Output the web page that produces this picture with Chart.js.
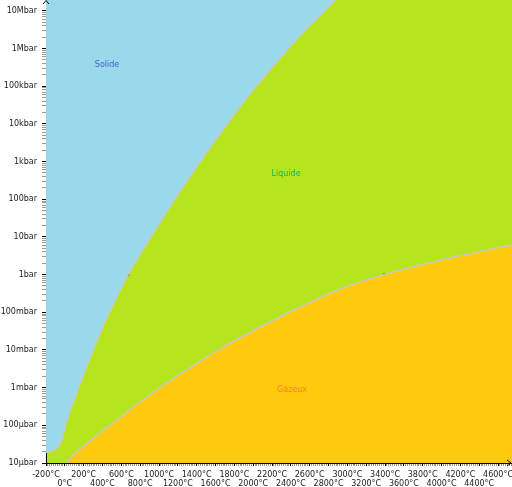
<!DOCTYPE html>
<html>
<head>
<meta charset="utf-8">
<script src="https://cdn.jsdelivr.net/npm/chart.js@4.4.1/dist/chart.umd.min.js"></script>
<style>
  html, body { margin: 0; padding: 0; background: #fff; }
  #wrap { width: 512px; height: 487px; }
</style>
</head>
<body>
<div id="wrap"><canvas id="phase" width="512" height="487"></canvas></div>
<script>
// Melting curve (solide / liquide), temperature in °C, pressure in bar
const meltT = [-200, -115, -73, -41, -19, 2, 108, 214, 320, 426, 533, 671, 904, 1170, 1435, 1701, 1966, 2232, 2497, 2890, 3135];
const meltP = [1.9e-5, 2.21e-5, 2.66e-5, 3.61e-5, 5.21e-5, 9.04e-5, 5.32e-4, 2.77e-3, 1.28e-2, 5.53e-2, 0.2, 1.0, 9.1, 102, 980, 8300, 6.3e4, 3.9e5, 2.2e6, 2.2e7, 1.2e8];

// Vaporisation curve (liquide / gazeux)
const vapT = [-40, 23, 76, 161, 267, 373, 586, 798, 1223, 1648, 2073, 2497, 2922, 3390, 4090, 4800];
const vapP = [5e-6, 1e-5, 1.53e-5, 2.35e-5, 3.84e-5, 6.25e-5, 1.61e-4, 4.16e-4, 2.29e-3, 1.07e-2, 4.07e-2, 0.138, 0.417, 1.0, 2.75, 6.5];

// Points marked at 1 bar
const markT = [671, 3390];
const markP = [1, 1];

// Region names
const regionNames = ['Solide', 'Liquide', 'Gazeux'];
const regionT = [448, 2349, 2413];
const regionP = [3.7e5, 470, 8.7e-4];
const regionColors = ['#3f5fd6', '#22b14c', '#ff7f27'];

// Axis labels
const xLabelValues = [-200, 0, 200, 400, 600, 800, 1000, 1200, 1400, 1600, 1800, 2000, 2200, 2400, 2600, 2800, 3000, 3200, 3400, 3600, 3800, 4000, 4200, 4400, 4600];
const xTickLabels = ['-200°C', '0°C', '200°C', '400°C', '600°C', '800°C', '1000°C', '1200°C', '1400°C', '1600°C', '1800°C', '2000°C', '2200°C', '2400°C', '2600°C', '2800°C', '3000°C', '3200°C', '3400°C', '3600°C', '3800°C', '4000°C', '4200°C', '4400°C', '4600°C'];
const yTickLabels = ['10µbar', '100µbar', '1mbar', '10mbar', '100mbar', '1bar', '10bar', '100bar', '1kbar', '10kbar', '100kbar', '1Mbar', '10Mbar'];

const X_MIN = -200, X_MAX = 4748;
const Y_MIN = 1e-5, Y_MAX = 1.95e7;
const FONT = { family: 'DejaVu Sans', size: 8, lineHeight: 1.15 };

const toXY = (xs, ys) => xs.map((x, i) => ({ x: x, y: ys[i] }));

function isDecade(v) {
  const e = Math.round(Math.log10(v));
  return Math.abs(v - Math.pow(10, e)) < 1e-6 * v;
}

// minor tick marks
const xTicks = [];
for (let t = X_MIN; t <= X_MAX; t += 20) xTicks.push({ value: t });
const yTicks = [];
for (let e = -5; e <= 7; e++) {
  for (let k = 1; k <= 9; k++) {
    const v = k * Math.pow(10, e);
    if (v <= Y_MAX) yTicks.push({ value: v });
  }
}

const background = {
  id: 'background',
  beforeDraw(chart) {
    const { ctx, chartArea: a } = chart;
    ctx.save();
    ctx.fillStyle = '#b5e61d';
    ctx.fillRect(a.left, a.top, a.right - a.left, a.bottom - a.top);
    ctx.restore();
  }
};

const overlay = {
  id: 'overlay',
  afterDatasetsDraw(chart) {
    const { ctx } = chart;
    const sx = chart.scales.x, sy = chart.scales.y;
    ctx.save();
    ctx.font = '8px "DejaVu Sans"';
    ctx.textAlign = 'center';
    ctx.textBaseline = 'middle';
    regionNames.forEach((name, i) => {
      ctx.fillStyle = regionColors[i];
      ctx.fillText(name, sx.getPixelForValue(regionT[i]), sy.getPixelForValue(regionP[i]));
    });
    ctx.restore();
  },
  afterDraw(chart) {
    const { ctx, chartArea: a } = chart;
    ctx.save();
    ctx.strokeStyle = '#000';
    ctx.lineWidth = 1;
    ctx.beginPath();
    ctx.moveTo(a.left - 3, a.top + 4);
    ctx.lineTo(a.left, a.top + 0.5);
    ctx.lineTo(a.left + 3, a.top + 4);
    ctx.moveTo(a.right - 5, a.bottom - 3);
    ctx.lineTo(a.right - 1, a.bottom);
    ctx.lineTo(a.right - 5, a.bottom + 3);
    ctx.stroke();
    ctx.restore();
  }
};

new Chart(document.getElementById('phase').getContext('2d'), {
  type: 'line',
  data: {
    datasets: [
      {
        label: 'Solide',
        data: toXY(meltT, meltP),
        fill: 'end',
        backgroundColor: '#99d9ea',
        borderColor: '#c8c8c8',
        borderWidth: 1.5,
        pointRadius: 0,
        cubicInterpolationMode: 'monotone',
        clip: 0
      },
      {
        label: 'Gazeux',
        data: toXY(vapT, vapP),
        fill: 'start',
        backgroundColor: '#ffc90e',
        borderColor: '#c8c8c8',
        borderWidth: 1.5,
        pointRadius: 0,
        cubicInterpolationMode: 'monotone',
        clip: 0
      },
      {
        type: 'scatter',
        label: '1 bar',
        data: toXY(markT, markP),
        pointRadius: 1.6,
        backgroundColor: '#777',
        borderWidth: 0,
        clip: 0
      }
    ]
  },
  options: {
    responsive: false,
    animation: false,
    layout: { padding: 0, autoPadding: false },
    plugins: {
      legend: { display: false },
      tooltip: { enabled: false }
    },
    scales: {
      x: {
        type: 'linear',
        min: X_MIN,
        max: X_MAX,
        z: 1,
        border: { color: '#000', width: 1 },
        grid: {
          drawOnChartArea: false,
          tickLength: 3,
          tickColor: (c) => (c.tick && xLabelValues.includes(c.tick.value)) ? '#000' : '#9a9a9a'
        },
        ticks: {
          autoSkip: false,
          maxRotation: 0,
          minRotation: 0,
          padding: 4,
          color: '#222',
          font: FONT,
          callback: (value) => {
            const i = xLabelValues.indexOf(value);
            if (i < 0) return '';
            return i % 2 === 0 ? [xTickLabels[i], ''] : ['', xTickLabels[i]];
          }
        },
        afterBuildTicks: (axis) => { axis.ticks = xTicks.map(t => ({ value: t.value })); },
        afterFit: (scale) => { scale.height = 24; scale.paddingLeft = 0; scale.paddingRight = 0; }
      },
      y: {
        type: 'logarithmic',
        min: Y_MIN,
        max: Y_MAX,
        z: 1,
        border: { color: '#000', width: 1 },
        grid: {
          drawOnChartArea: false,
          tickLength: 4,
          tickColor: (c) => (c.tick && isDecade(c.tick.value)) ? '#000' : '#9a9a9a'
        },
        ticks: {
          autoSkip: false,
          padding: 5,
          color: '#222',
          font: FONT,
          callback: (value) => {
            if (!isDecade(value)) return '';
            return yTickLabels[Math.round(Math.log10(value)) + 5];
          }
        },
        afterBuildTicks: (axis) => { axis.ticks = yTicks.map(t => ({ value: t.value })); },
        afterFit: (scale) => { scale.width = 46; scale.paddingTop = 0; scale.paddingBottom = 0; }
      }
    }
  },
  plugins: [background, overlay]
});
</script>
</body>
</html>
